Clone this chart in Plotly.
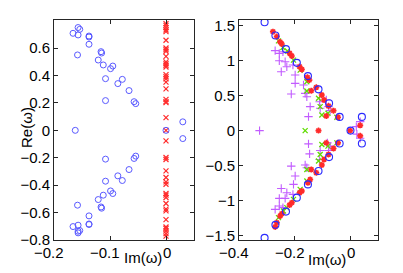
import plotly.graph_objects as go

# ---------------- Left panel data ----------------
left_circ_im = [-0.157, -0.154, -0.166, -0.157, -0.1375, -0.1375, -0.1375, -0.158, -0.116, -0.115,
                -0.121, -0.112, -0.095, -0.099, -0.108, -0.078, -0.086, -0.066, -0.108, -0.057, -0.054,
                -0.108, -0.057, -0.054, -0.066, -0.086, -0.078, -0.108, -0.099, -0.095, -0.112,
                -0.121, -0.116, -0.115, -0.158, -0.1375, -0.1375, -0.1375, -0.157, -0.166, -0.157, -0.154, -0.157,
                -0.162, 0.0, 0.030, 0.030]
left_circ_re = [0.750, 0.737, 0.708, 0.696, 0.688, 0.681, 0.628, 0.550, 0.574, 0.564,
                0.513, 0.477, 0.469, 0.450, 0.377, 0.372, 0.341, 0.290, 0.217, 0.209, 0.195,
                -0.210, -0.205, -0.188, -0.286, -0.332, -0.366, -0.371, -0.442, -0.461, -0.473,
                -0.505, -0.559, -0.568, -0.546, -0.624, -0.683, -0.687, -0.692, -0.702, -0.736, -0.731, -0.748,
                0.0, 0.0, 0.062, -0.060]

left_x_re = [0.779, 0.766, 0.749, 0.732, 0.720, 0.657, 0.601, 0.589, 0.577, 0.540, 0.499, 0.486,
             0.474, 0.462, 0.406, 0.391, 0.376, 0.352, 0.303, 0.226, 0.209, 0.202, 0.093, 0.0,
             -0.077, -0.198, -0.213, -0.296, -0.344, -0.376, -0.393, -0.461, -0.473, -0.490,
             -0.534, -0.575, -0.588, -0.651, -0.705, -0.716, -0.734, -0.753, -0.772]
left_x_im = [0.0] * len(left_x_re)

# ---------------- Right panel data ----------------
right_circ_im = [-0.308, -0.269, -0.231, -0.192, -0.152, -0.114, -0.076, -0.038, 0.001, 0.042,
                 -0.308, -0.269, -0.231, -0.192, -0.152, -0.114, -0.076, -0.038, 0.042]
right_circ_re = [1.553, 1.363, 1.167, 0.971, 0.781, 0.591, 0.391, 0.196, 0.0, 0.196,
                 -1.537, -1.351, -1.161, -0.961, -0.771, -0.580, -0.380, -0.186, -0.186]

right_star_im = [-0.278, -0.264, -0.252, -0.246, -0.218, -0.210, -0.182, -0.174, -0.154, -0.147,
                 -0.140, -0.122, -0.102, -0.094, -0.078, -0.060, -0.044, -0.086, -0.114, 0.036, 0.0,
                 -0.270, -0.264, -0.252, -0.246, -0.218, -0.210, -0.182, -0.174, -0.152, -0.144,
                 -0.140, -0.122, -0.102, -0.094, -0.078, -0.060, -0.044, -0.086, 0.036]
right_star_re = [1.418, 1.347, 1.271, 1.242, 1.109, 1.070, 0.917, 0.877, 0.763, 0.724,
                 0.571, 0.620, 0.510, 0.439, 0.353, 0.286, 0.191, 0.210, 0.0, 0.075, 0.0,
                 -1.380, -1.319, -1.223, -1.190, -1.066, -1.033, -0.890, -0.866, -0.747, -0.700,
                 -0.557, -0.604, -0.494, -0.414, -0.343, -0.257, -0.176, -0.176, -0.075]

right_xg_im = [-0.258, -0.242, -0.226, -0.204, -0.180, -0.156, -0.156, -0.114, -0.108, -0.102,
               -0.080, -0.048, -0.162,
               -0.258, -0.240, -0.228, -0.204, -0.180, -0.156, -0.156, -0.114, -0.108, -0.102,
               -0.080, -0.048]
right_xg_re = [1.286, 1.190, 1.140, 1.010, 0.867, 0.700, 0.567, 0.463, 0.343, 0.224,
               0.249, 0.191, 0.0,
               -1.247, -1.152, -1.104, -0.986, -0.843, -0.723, -0.557, -0.437, -0.343, -0.200,
               -0.223, -0.176]

right_plus_im = [-0.270, -0.255, -0.242, -0.255, -0.234, -0.248, -0.228, -0.206, -0.198, -0.198,
                 -0.212, -0.168, -0.162, -0.156, -0.144, -0.110, -0.108, -0.150, -0.086, -0.078,
                 -0.072, 0.036, 0.022, -0.326,
                 -0.150, -0.146, -0.082, -0.212, -0.162, -0.156, -0.198, -0.204, -0.248, -0.228,
                 -0.206, -0.255, -0.234, -0.255, -0.270, -0.242, -0.108, -0.110, -0.078, -0.072,
                 0.024, 0.036]
right_plus_re = [1.146, 1.106, 1.130, 1.000, 0.986, 0.843, 0.914, 0.939, 0.796, 0.677,
                 0.524, 0.653, 0.534, 0.486, 0.343, 0.414, 0.320, 0.200, 0.439, 0.343,
                 0.286, 0.129, 0.057, 0.0,
                 -0.190, -0.333, -0.176, -0.509, -0.494, -0.533, -0.651, -0.771, -0.829, -0.890,
                 -0.914, -0.971, -0.971, -1.080, -1.129, -1.104, -0.286, -0.414, -0.286, -0.223,
                 -0.050, -0.110]

left_xticks = [-0.2, -0.1, 0]
left_xticklabels = ["\u22120.2", "\u22120.1", "0"]
left_yticks = [-0.8, -0.6, -0.4, -0.2, 0, 0.2, 0.4, 0.6]
left_yticklabels = ["\u22120.8", "\u22120.6", "\u22120.4", "\u22120.2", "0", "0.2", "0.4", "0.6"]
right_xticks = [-0.4, -0.2, 0]
right_xticklabels = ["\u22120.4", "\u22120.2", "0"]
right_yticks = [-1.5, -1, -0.5, 0, 0.5, 1, 1.5]
right_yticklabels = ["\u22121.5", "\u22121", "\u22120.5", "0", "0.5", "1", "1.5"]

BLUE = "#5a5aff"
RED = "#ff2a2a"
GREEN = "#5fdc00"
PURPLE = "#c25cff"
FONT = dict(family="Liberation Sans, Arial", size=15, color="black")

fig = go.Figure()

fig.add_trace(go.Scatter(x=left_x_im, y=left_x_re, mode="markers", xaxis="x", yaxis="y",
                         marker=dict(symbol="x-thin-open", size=5, color=RED, line=dict(color=RED, width=1.2)),
                         showlegend=False))
fig.add_trace(go.Scatter(x=left_circ_im, y=left_circ_re, mode="markers", xaxis="x", yaxis="y",
                         marker=dict(symbol="circle-open", size=6, color=BLUE, line=dict(color=BLUE, width=1)),
                         showlegend=False))

fig.add_trace(go.Scatter(x=right_plus_im, y=right_plus_re, mode="markers", xaxis="x2", yaxis="y2",
                         marker=dict(symbol="cross-thin-open", size=6, color=PURPLE, line=dict(color=PURPLE, width=1.1)),
                         showlegend=False))
fig.add_trace(go.Scatter(x=right_xg_im, y=right_xg_re, mode="markers", xaxis="x2", yaxis="y2",
                         marker=dict(symbol="x-thin-open", size=5, color=GREEN, line=dict(color=GREEN, width=1.3)),
                         showlegend=False))
fig.add_trace(go.Scatter(x=right_star_im, y=right_star_re, mode="markers", xaxis="x2", yaxis="y2",
                         marker=dict(symbol="asterisk-open", size=5, color=RED, line=dict(color=RED, width=1.6)),
                         showlegend=False))
fig.add_trace(go.Scatter(x=right_circ_im, y=right_circ_re, mode="markers", xaxis="x2", yaxis="y2",
                         marker=dict(symbol="circle-open", size=7, color="#2a2aff", line=dict(color="#2a2aff", width=1.1)),
                         showlegend=False))

axis_common = dict(showline=True, linecolor="#262626", linewidth=1, mirror="ticks",
                   ticks="inside", ticklen=4, tickcolor="#262626", tickwidth=1,
                   showgrid=False, zeroline=False, automargin=False, tickfont=FONT)

# x tick labels as annotations placed on the axis scale (negatives sit slightly left, as in the original)
xlabel_y = 1 - 252 / 273
annotations = []
for xref, vals, texts in (("x", left_xticks, left_xticklabels), ("x2", right_xticks, right_xticklabels)):
    for v, t in zip(vals, texts):
        annotations.append(dict(text=t, x=v, y=xlabel_y, xref=xref, yref="paper",
                                xanchor="center", yanchor="middle",
                                xshift=(-5 if t.startswith("\u2212") else 1),
                                showarrow=False, font=FONT))
annotations += [
    dict(text="Im(\u03c9)", x=143 / 403, y=1 - 257 / 273, xref="paper", yref="paper",
         xanchor="center", yanchor="middle", showarrow=False, font=FONT),
    dict(text="Im(\u03c9)", x=327 / 403, y=1 - 259 / 273, xref="paper", yref="paper",
         xanchor="center", yanchor="middle", showarrow=False, font=FONT),
    dict(text="Re(\u03c9)", x=26 / 403, y=1 - 128 / 273, xref="paper", yref="paper",
         xanchor="center", yanchor="middle", textangle=-90, showarrow=False, font=FONT),
]

ydom = [33 / 273, 253 / 273]
fig.update_layout(
    width=403, height=273,
    margin=dict(l=0, r=0, t=0, b=0),
    paper_bgcolor="white", plot_bgcolor="white",
    xaxis=dict(domain=[54 / 403, 194 / 403], range=[-0.2, 0.05], tickvals=left_xticks,
               showticklabels=False, anchor="y", **axis_common),
    yaxis=dict(domain=ydom, range=[-0.8, 0.805], tickvals=left_yticks,
               ticktext=left_yticklabels, anchor="x", **axis_common),
    xaxis2=dict(domain=[239 / 403, 378 / 403], range=[-0.4, 0.1], tickvals=right_xticks,
                showticklabels=False, anchor="y2", **axis_common),
    yaxis2=dict(domain=ydom, range=[-1.568, 1.585], tickvals=right_yticks,
                ticktext=right_yticklabels, anchor="x2", **axis_common),
    annotations=annotations,
)

fig.write_html("out.html", config={"displayModeBar": False},
               post_script="document.body.style.margin='0px';document.body.style.overflow='hidden';")
